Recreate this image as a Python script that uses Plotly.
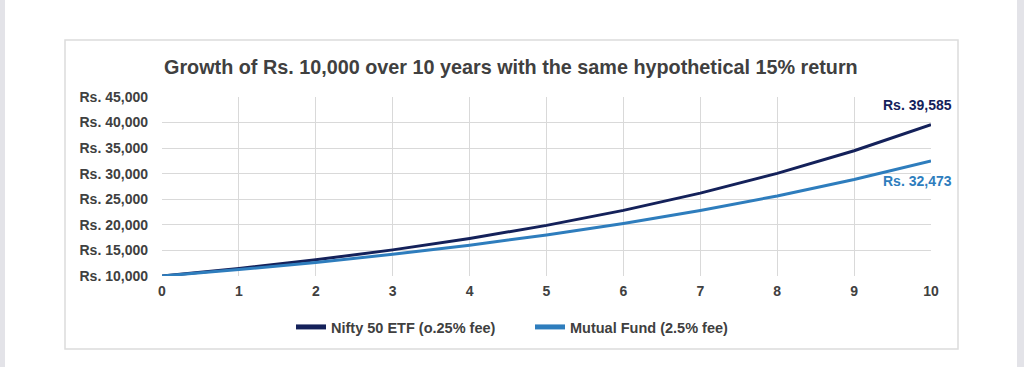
import plotly.graph_objects as go

years = [0, 1, 2, 3, 4, 5, 6, 7, 8, 9, 10]
etf_values = [10000, 11475, 13168, 15110, 17338, 19896, 22831, 26198, 30062, 34497, 39585]
mf_values = [10000, 11250, 12656, 14238, 16018, 18020, 20273, 22807, 25658, 28865, 32473]
etf_name = "Nifty 50 ETF (o.25% fee)"
mf_name = "Mutual Fund (2.5% fee)"
title = "Growth of Rs. 10,000 over 10 years with the same hypothetical 15% return"
y_ticks = [10000, 15000, 20000, 25000, 30000, 35000, 40000, 45000]
y_labels = ["Rs. 10,000", "Rs. 15,000", "Rs. 20,000", "Rs. 25,000", "Rs. 30,000",
            "Rs. 35,000", "Rs. 40,000", "Rs. 45,000"]
etf_end_label = "Rs. 39,585"
mf_end_label = "Rs. 32,473"

ETF_COLOR = "#14215a"
MF_COLOR = "#2e7dbd"
TEXT = "#404040"
FONT = "Liberation Sans, Arial, sans-serif"

W, H = 1024, 367
L, R, T, B = 162, 93, 97, 91
pw, ph = W - L - R, H - T - B

def px(x):
    return (x - L) / pw

def py(y):
    return 1 - (y - T) / ph

fig = go.Figure()
fig.add_trace(go.Scatter(x=years, y=etf_values, mode="lines", name="<b>" + etf_name + "</b>",
                         line=dict(color=ETF_COLOR, width=3)))
fig.add_trace(go.Scatter(x=years, y=mf_values, mode="lines", name="<b>" + mf_name + "</b>",
                         line=dict(color=MF_COLOR, width=3)))

shapes = [
    dict(type="rect", xref="paper", yref="paper", x0=px(65), x1=px(958), y0=py(349), y1=py(40),
         line=dict(color="#dcdcdc", width=1.5), fillcolor="rgba(0,0,0,0)", layer="below"),
    dict(type="rect", xref="paper", yref="paper", x0=px(0), x1=px(5), y0=py(367), y1=py(0),
         line=dict(width=0), fillcolor="#e3e3e8", layer="below"),
    dict(type="rect", xref="paper", yref="paper", x0=px(1017), x1=px(1024), y0=py(367), y1=py(0),
         line=dict(width=0), fillcolor="#e3e3e8", layer="below"),
]

annotations = [
    dict(text="<b>" + title + "</b>", xref="paper", yref="paper", x=px(511), y=py(67),
         showarrow=False, font=dict(size=19.8, color=TEXT, family=FONT), xanchor="center", yanchor="middle"),
    dict(text="<b>" + etf_end_label + "</b>", x=years[-1], y=etf_values[-1], xref="x", yref="y",
         showarrow=False, font=dict(size=14, color=ETF_COLOR, family=FONT),
         xanchor="center", yanchor="bottom", xshift=-14, yshift=10),
    dict(text="<b>" + mf_end_label + "</b>", x=years[-1], y=mf_values[-1], xref="x", yref="y",
         showarrow=False, font=dict(size=14, color=MF_COLOR, family=FONT),
         xanchor="center", yanchor="top", xshift=-14, yshift=-10),
]

fig.update_layout(
    width=W, height=H,
    margin=dict(l=L, r=R, t=T, b=B, pad=0),
    paper_bgcolor="white", plot_bgcolor="white",
    font=dict(family=FONT, color=TEXT, size=14),
    showlegend=True,
    legend=dict(orientation="h", x=px(530), xanchor="center", y=py(327), yanchor="middle",
                font=dict(size=14.5, color=TEXT, family=FONT), entrywidth=194,
                bgcolor="rgba(0,0,0,0)", itemsizing="constant"),
    shapes=shapes,
    annotations=annotations,
    xaxis=dict(range=[0, 10], tickmode="array", tickvals=years,
               ticktext=["<b>%d</b>" % v for v in years],
               showgrid=True, gridcolor="#d9d9d9", gridwidth=1, zeroline=False,
               showline=False, ticks="", tickfont=dict(size=14, color=TEXT), ticklabelstandoff=5),
    yaxis=dict(range=[10000, 45000], tickmode="array", tickvals=y_ticks,
               ticktext=["<b>" + t + "</b>" for t in y_labels],
               showgrid=True, gridcolor="#d9d9d9", gridwidth=1, zeroline=False,
               showline=False, ticks="", tickfont=dict(size=14, color=TEXT), ticklabelstandoff=13),
)

fig.write_html("out.html", config={"displayModeBar": False},
               post_script="document.body.style.margin='0px';document.body.style.overflow='hidden';")
